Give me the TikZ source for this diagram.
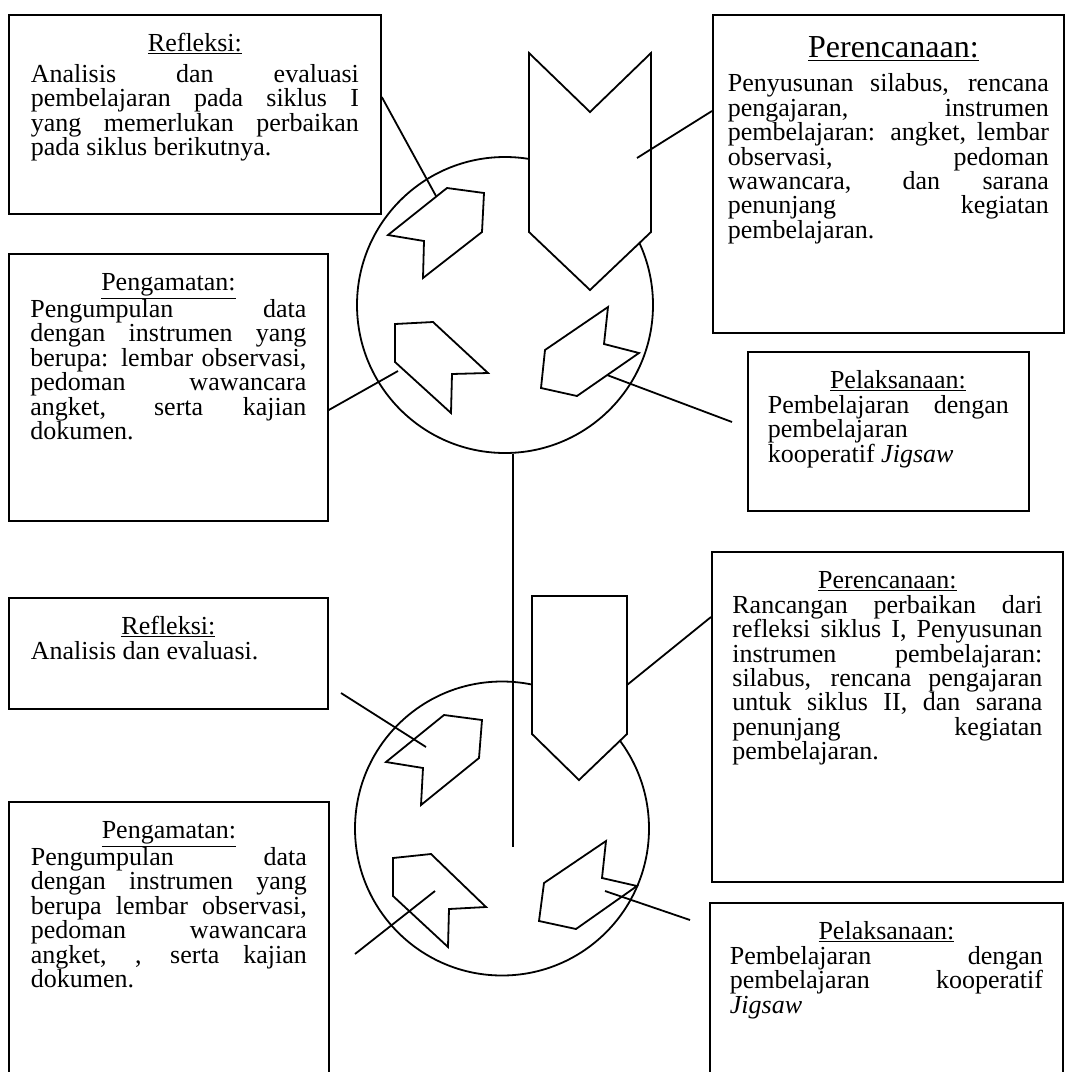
\documentclass[tikz,border=0pt]{standalone}
\usepackage{fontspec}
\setmainfont{Liberation Serif}
\begin{document}
\begin{tikzpicture}[x=1pt, y=-1pt, line width=1.8pt, font={\fontsize{26}{24.4}\selectfont}]
	\tikzstyle{kotak} = [ draw, rectangle, anchor=north west, align=justify, inner ysep=0pt, text height=37pt ];
	\tikzstyle{lingkar} = [ draw, circle, inner sep=0pt ];
	\tikzstyle{panah} = [ draw, fill=white, line join=miter ];

	\def \judul #1{{\centering\underline{#1}\par}}

	\useasboundingbox (0,0) rectangle (1065,1072);

	% siklus I
	\node[kotak, text width=328pt, inner xsep=22pt, text depth=162pt] (refl1) at (8,14)
		{\judul{Refleksi:}\vspace{6pt}Analisis dan evaluasi\linebreak pembelajaran pada siklus I\linebreak yang memerlukan perbaikan\linebreak pada siklus berikutnya.};
	\node[kotak, text width=321pt, inner xsep=15pt, text height=43pt, text depth=275pt] (renc1) at (712,14)
		{{\fontsize{32}{34}\selectfont\centering\kern10pt\underline{Perencanaan:}\par}\vspace{9.5pt}Penyusunan silabus, rencana\linebreak pengajaran, instrumen\linebreak pembelajaran: angket, lembar\linebreak observasi, pedoman\linebreak wawancara, dan sarana\linebreak penunjang kegiatan\linebreak pembelajaran.};
	\node[kotak, text width=276pt, inner xsep=21.5pt, text depth=230pt] (amat1) at (8,253)
		{\judul{Pengamatan:}Pengumpulan data\linebreak dengan instrumen yang\linebreak berupa: lembar observasi,\linebreak pedoman wawancara\linebreak angket, serta kajian\linebreak dokumen.};
	\node[kotak, text width=241pt, inner xsep=20pt, text depth=122pt] (laks1) at (747,351)
		{{\centering\kern19pt\underline{Pelaksanaan:}\par}Pembelajaran dengan\linebreak pembelajaran\linebreak kooperatif \textit{Jigsaw}};

	% siklus II
	\node[kotak, text width=275pt, inner xsep=22pt, text depth=74pt] (refl2) at (8,597)
		{\judul{Refleksi:}Analisis dan evaluasi.};
	\node[kotak, text width=310pt, inner xsep=20.5pt, text depth=293pt] (renc2) at (711,551)
		{\judul{Perencanaan:}Rancangan perbaikan dari\linebreak refleksi siklus I, Penyusunan\linebreak instrumen pembelajaran:\linebreak silabus, rencana pengajaran\linebreak untuk siklus II, dan sarana\linebreak penunjang kegiatan\linebreak pembelajaran.};
	\node[kotak, text width=276pt, inner xsep=22pt, text depth=300pt] (amat2) at (8,801)
		{\judul{Pengamatan:}Pengumpulan data\linebreak dengan instrumen yang\linebreak berupa lembar observasi,\linebreak pedoman wawancara\linebreak angket, , serta kajian\linebreak dokumen.};
	\node[kotak, text width=313pt, inner xsep=20pt, text depth=250pt] (laks2) at (709,902)
		{\judul{Pelaksanaan:}Pembelajaran dengan\linebreak pembelajaran kooperatif\linebreak \textit{Jigsaw}};

	\node[lingkar, minimum size=296pt] (ling1) at (505,305) {};
	\node[lingkar, minimum size=294pt] (ling2) at (502,828.5) {};

	\coordinate (bawah) at (513,847);
	\draw (ling1.south -| bawah) -- (bawah);

	\draw[panah] (529,53) -- (590,112) -- (651,53) -- (651,232) -- (590,290) -- (529,232) -- cycle;
	\draw[panah] (447,188) -- (484,193) -- (482,232) -- (423,278) -- (424,241) -- (388,235) -- cycle;
	\draw[panah] (395,324) -- (433,322) -- (488,373) -- (452,374) -- (451,413) -- (395,362) -- cycle;
	\draw[panah] (608,307) -- (604,344) -- (639,353) -- (577,396) -- (541,388) -- (545,350) -- cycle;

	\draw[panah] (532,596) -- (627,596) -- (627,734) -- (579,780) -- (532,734) -- cycle;
	\draw[panah] (444,715) -- (482,720) -- (479,758) -- (421,805) -- (423,768) -- (386,762) -- cycle;
	\draw[panah] (393,858) -- (431,854) -- (486,907) -- (449,909) -- (448,947) -- (393,896) -- cycle;
	\draw[panah] (606,841) -- (602,878) -- (637,886) -- (576,929) -- (539,921) -- (544,883) -- cycle;

	\coordinate (u1) at (436,196);
	\coordinate (u2) at (637,158);
	\coordinate (u3) at (398,371);
	\coordinate (u4a) at (607,375);
	\coordinate (u4b) at (732,422);
	\coordinate (u5a) at (341,693);
	\coordinate (u5b) at (426,747);
	\coordinate (u6) at (627,685);
	\coordinate (u7a) at (435,891);
	\coordinate (u7b) at (355,954);
	\coordinate (u8a) at (605,891);
	\coordinate (u8b) at (690,920);

	\draw ([yshift=-83pt]refl1.north east) -- (u1);
	\draw (u2) -- ([yshift=-97pt]renc1.north west);
	\draw ([yshift=-157pt]amat1.north east) -- (u3);
	\draw (u6) -- ([yshift=-66pt]renc2.north west);
	\foreach \a/\b in {u4a/u4b,u5a/u5b,u7a/u7b,u8a/u8b} {
		\draw (\a) -- (\b);
	}
\end{tikzpicture}
\end{document}
